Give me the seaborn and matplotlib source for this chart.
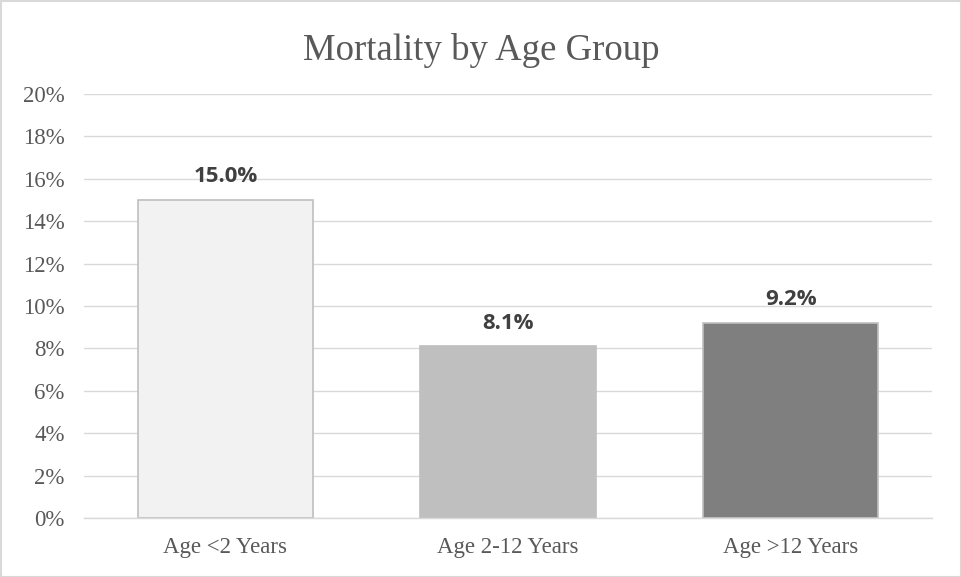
import matplotlib
matplotlib.use("Agg")
import matplotlib.pyplot as plt
import seaborn as sns
import pandas as pd
from matplotlib.patches import Rectangle

categories = ["Age <2 Years", "Age 2-12 Years", "Age >12 Years"]
mortality = [15.0, 8.1, 9.2]
bar_colors = ["#f2f2f2", "#bfbfbf", "#7f7f7f"]
yticks = [0, 2, 4, 6, 8, 10, 12, 14, 16, 18, 20]

df = pd.DataFrame({"group": categories, "mortality": mortality})

sns.set_theme(style="white")
plt.rcParams["font.family"] = ["Liberation Serif", "DejaVu Serif"]

fig = plt.figure(figsize=(9.62, 5.77), dpi=100)
ax = fig.add_axes([84/962, 1-518/577, 848/962, (518-94)/577])

sns.barplot(data=df, x="group", y="mortality", hue="group", palette=bar_colors,
            width=0.62, edgecolor="#bfbfbf", linewidth=1.2, legend=False, ax=ax, zorder=3)

ax.set_ylim(0, 20)
ax.set_xlim(-0.5, 2.5)
ax.set_yticks(yticks)
ax.set_yticklabels([f"{t}%" for t in yticks])
ax.yaxis.grid(True, color="#d9d9d9", linewidth=1, zorder=0)
ax.set_axisbelow(True)
for s in ["top", "right", "left"]:
    ax.spines[s].set_visible(False)
ax.spines["bottom"].set_color("#d9d9d9")
ax.spines["bottom"].set_linewidth(1)
ax.spines["bottom"].set_zorder(4)
ax.tick_params(axis="both", length=0, labelsize=16.5, colors="#595959")
ax.tick_params(axis="y", pad=14)
ax.tick_params(axis="x", pad=14)
ax.set_xlabel("")
ax.set_ylabel("")

for i, v in enumerate(mortality):
    ax.text(i, v + 0.6, f"{v:.1f}%", ha="center", va="bottom", fontsize=16,
            fontweight="bold", color="#404040", family=["Open Sans", "DejaVu Sans"])

fig.text(0.5, 1-50/577, "Mortality by Age Group", ha="center", va="center",
         fontsize=26.5, color="#595959")

fig.patches.append(Rectangle((0.5/962, 0.5/577), 1-1/962, 1-1/577, transform=fig.transFigure,
                             fill=False, edgecolor="#d9d9d9", linewidth=1.5))

fig.savefig("out.png", dpi=100, facecolor="white")
